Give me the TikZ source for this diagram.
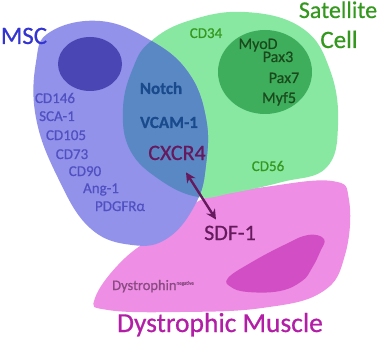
\documentclass[tikz,border=0pt]{standalone}
\usepackage{fontspec}
\setmainfont{Carlito}[FakeBold=0.6]
\usetikzlibrary{arrows.meta}
\definecolor{mscfill}{HTML}{9292EA}
\definecolor{mscdark}{HTML}{4A46B4}
\definecolor{satfill}{HTML}{88E8A2}
\definecolor{satdark}{HTML}{3EAE5C}
\definecolor{overlap}{HTML}{5A88C4}
\definecolor{musfill}{HTML}{EE8EE4}
\definecolor{musdark}{HTML}{D24EC4}
\definecolor{msctext}{HTML}{3434D0}
\definecolor{mkrblue}{HTML}{5050C2}
\definecolor{sattext}{HTML}{34981E}
\definecolor{myotext}{HTML}{1A4A1C}
\definecolor{notchblue}{HTML}{1A4A8C}
\definecolor{plum}{HTML}{661A5E}
\definecolor{dystext}{HTML}{8A4A82}
\definecolor{mustext}{HTML}{B21EA6}
\newcommand{\mscshape}{plot[smooth cycle, tension=0.7] coordinates {(50,32) (100,21) (150,40) (188,72) (206,118) (206,165) (196,203) (168,238) (132,245) (90,228) (58,178) (36,118) (36,62)}}
\newcommand{\satshape}{plot[smooth cycle, tension=0.7] coordinates {(150,42) (188,21) (245,12) (302,28) (330,70) (338,125) (326,168) (282,182) (232,193) (198,197) (160,180) (130,150) (123,108) (133,68)}}

\begin{document}
\begin{tikzpicture}[x=1pt, y=-1pt,
  lbl/.style={inner sep=0pt, anchor=base},
  mkr/.style={lbl, text=mkrblue, font=\fontsize{15}{15}\selectfont},
  satmkr/.style={lbl, text=sattext, font=\fontsize{15}{15}\selectfont},
  myomkr/.style={lbl, text=myotext, font=\fontsize{16}{16}\selectfont},
  title/.style={lbl, font=\fontsize{25}{25}\selectfont},
  dblarrow/.style={draw=plum, line width=2.4pt, {Stealth[length=10pt,width=10pt]}-{Stealth[length=10pt,width=10pt]}}]
\useasboundingbox (0,0) rectangle (387,339);

% cells
\fill[musfill] plot[smooth cycle, tension=0.7] coordinates {(95,298) (125,258) (172,225) (205,198) (265,187) (332,181) (349,200) (345,255) (322,292) (262,308) (180,312) (108,310)};
\fill[musdark] plot[smooth cycle, tension=0.7] coordinates {(228,278) (252,262) (284,245) (308,235) (324,239) (320,252) (312,268) (302,281) (280,291) (248,292) (231,287)};
\fill[satfill] \satshape;
\fill[mscfill] \mscshape;
\begin{scope}
  \clip \satshape;
  \fill[overlap] \mscshape;
\end{scope}
\fill[mscdark] (90,64) ellipse (32 and 27);
\fill[satdark] (265,72) ellipse (47 and 42);

% titles
\node[title, text=msctext] (msc) at (24,44) {MSC};
\node[title, text=sattext, font=\fontsize{24}{24}\selectfont] (sat) at (338,18) {Satellite};
\node[title, text=sattext] (cell) at (339,48) {Cell};
\node[title, text=mustext, font=\fontsize{27.5}{27.5}\selectfont] (muscle) at (220,332) {Dystrophic Muscle};

% MSC markers
\node[mkr] (cd146) at (55,103) {CD146};
\node[mkr] (sca) at (57,121) {SCA-1};
\node[mkr] (cd105) at (66,140) {CD105};
\node[mkr] (cd73) at (72,159) {CD73};
\node[mkr] (cd90) at (85,176) {CD90};
\node[mkr] (ang) at (101,193) {Ang-1};
\node[mkr] (pdgfr) at (120,211) {PDGFRα};

% satellite cell markers
\node[satmkr] (cd34) at (206,38) {CD34};
\node[satmkr] (cd56) at (268,171) {CD56};
\node[myomkr] (myod) at (258,49) {MyoD};
\node[myomkr] (pax3) at (278,62) {Pax3};
\node[myomkr] (pax7) at (284,83) {Pax7};
\node[myomkr] (myf) at (279,103) {Myf5};

% shared
\node[lbl, text=notchblue, font=\bfseries\fontsize{17}{17}\selectfont] (notch) at (161,94) {Notch};
\node[lbl, text=notchblue, font=\bfseries\fontsize{17}{17}\selectfont] (vcam) at (169,128) {VCAM-1};
\node[lbl, text=plum, font=\fontsize{22}{22}\selectfont] (cxcr) at (177,160) {CXCR4};
\node[lbl, text=plum, font=\fontsize{22}{22}\selectfont] (sdf) at (230,240) {SDF-1};
\node[lbl, anchor=base west, text=dystext, font=\fontsize{14.5}{14.5}\selectfont] (dys) at (112,290) {Dystrophin\textsuperscript{\fontsize{5}{5}\selectfont negative}};

\draw[dblarrow] ([shift={(9,12)}]cxcr.south) -- ([shift={(-14,-6)}]sdf.north);
\end{tikzpicture}
\end{document}
